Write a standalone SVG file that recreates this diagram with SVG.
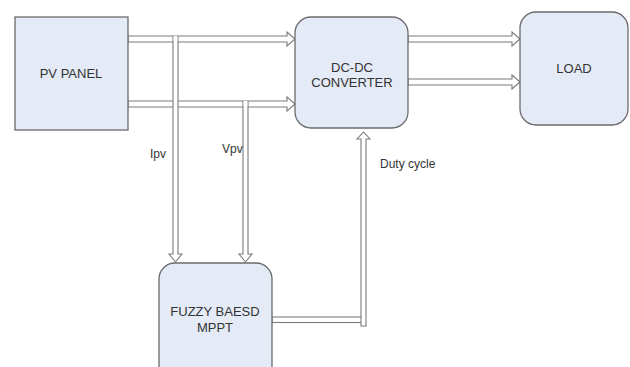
<svg xmlns="http://www.w3.org/2000/svg" width="630" height="367" viewBox="0 0 630 367">
<style>
.box{fill:#e4eaf6;stroke:#6b6b6b;stroke-width:1.3}
.arr{fill:#ffffff;stroke:#7a7a7a;stroke-width:1.1;stroke-linejoin:miter}
.edge{fill:none;stroke:#7a7a7a;stroke-width:1.1}
.fill{fill:#ffffff;stroke:none}
text{font-family:"Liberation Sans",Arial,sans-serif;font-size:13px;fill:#333333}
.lbl{font-size:12px}
</style>
<rect width="630" height="367" fill="#ffffff"/>
<g id="connectors">
  <!-- PV to converter -->
  <polygon class="arr" points="128,36 287,36 287,32 295,39 287,46 287,42 128,42"/>
  <polygon class="arr" points="128,101 287,101 287,97 295,104 287,111 287,107 128,107"/>
  <!-- converter to load -->
  <polygon class="arr" points="408,36 512,36 512,32 520,39 512,46 512,42 408,42"/>
  <polygon class="arr" points="408,79 512,79 512,75 520,82 512,89 512,85 408,85"/>
  <!-- Ipv tap -->
  <rect class="fill" x="173" y="36.6" width="5" height="218"/>
  <path class="arr" d="M173,36 L173,254 L169,254 L175.5,262 L182,254 L178,254 L178,36" fill="none"/>
  <rect class="fill" x="173.6" y="36.6" width="3.8" height="4.8"/>
  <!-- Vpv tap -->
  <rect class="fill" x="243" y="101.6" width="5" height="153"/>
  <path class="arr" d="M243,101 L243,254 L239,254 L245.5,262 L252,254 L248,254 L248,101" fill="none"/>
  <rect class="fill" x="243.6" y="101.6" width="3.8" height="4.8"/>
  <!-- Duty cycle -->
  <rect class="arr" x="272" y="317" width="92" height="5.5"/>
  <path class="arr" d="M361,326 L361,139 L357,139 L363.5,132 L370,139 L366,139 L366,326 Z"/>
</g>
<g id="pv_panel">
  <rect class="box" x="15" y="17" width="113" height="113"/>
  <text x="71" y="78" text-anchor="middle">PV PANEL</text>
</g>
<g id="dcdc_converter">
  <rect class="box" x="295" y="17" width="113" height="111" rx="16" ry="16"/>
  <text x="352" y="72" text-anchor="middle">DC-DC</text>
  <text x="352" y="87" text-anchor="middle">CONVERTER</text>
</g>
<g id="load">
  <rect class="box" x="520" y="12" width="108" height="113" rx="16" ry="16"/>
  <text x="574" y="73" text-anchor="middle">LOAD</text>
</g>
<g id="fuzzy_mppt">
  <rect class="box" x="159" y="263" width="113" height="120" rx="16" ry="16"/>
  <text x="215" y="316" text-anchor="middle">FUZZY BAESD</text>
  <text x="215" y="332" text-anchor="middle">MPPT</text>
</g>
<g id="labels">
  <text class="lbl" x="150" y="158">Ipv</text>
  <text class="lbl" x="222" y="153">Vpv</text>
  <text class="lbl" x="380" y="168">Duty cycle</text>
</g>
</svg>
